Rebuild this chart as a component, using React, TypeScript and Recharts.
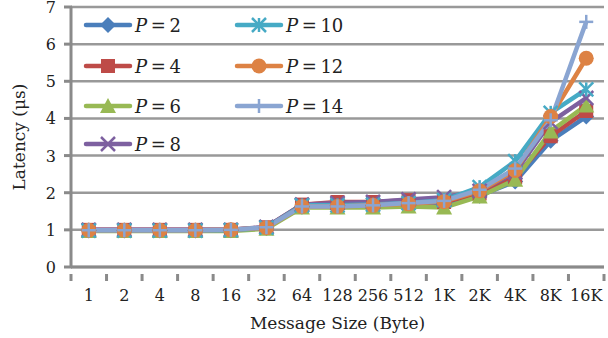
import React from 'react';
import { LineChart, Line, XAxis, YAxis, CartesianGrid } from 'recharts';

const sizes = ['1', '2', '4', '8', '16', '32', '64', '128', '256', '512', '1K', '2K', '4K', '8K', '16K'];
const yTicks = [0, 1, 2, 3, 4, 5, 6, 7];

const p2 = [0.98, 0.98, 0.98, 0.98, 0.99, 1.05, 1.62, 1.65, 1.65, 1.68, 1.65, 1.92, 2.3, 3.4, 4.05];
const p4 = [1.0, 1.0, 1.0, 1.0, 1.0, 1.07, 1.68, 1.75, 1.75, 1.8, 1.75, 1.98, 2.42, 3.52, 4.2];
const p6 = [0.97, 0.97, 0.97, 0.97, 0.97, 1.03, 1.6, 1.6, 1.6, 1.63, 1.6, 1.9, 2.35, 3.65, 4.35];
const p8 = [1.0, 1.0, 1.0, 1.0, 1.0, 1.08, 1.68, 1.72, 1.75, 1.82, 1.88, 2.05, 2.55, 3.9, 4.55];
const p10 = [0.98, 0.98, 0.98, 0.98, 0.99, 1.06, 1.66, 1.66, 1.68, 1.72, 1.8, 2.15, 2.85, 4.15, 4.78];
const p12 = [0.99, 0.99, 0.99, 0.99, 1.0, 1.06, 1.63, 1.63, 1.66, 1.7, 1.76, 2.05, 2.6, 4.05, 5.62];
const p14 = [0.99, 0.99, 0.99, 0.99, 1.0, 1.07, 1.63, 1.63, 1.66, 1.72, 1.78, 2.08, 2.65, 3.95, 6.6];

const series = [
  { key: 'p2', p: '2', color: '#4a7ebb', shape: 'diamond', values: p2 },
  { key: 'p4', p: '4', color: '#be4b48', shape: 'square', values: p4 },
  { key: 'p6', p: '6', color: '#98b954', shape: 'triangle', values: p6 },
  { key: 'p8', p: '8', color: '#7d60a0', shape: 'x', values: p8 },
  { key: 'p10', p: '10', color: '#46aac5', shape: 'star', values: p10 },
  { key: 'p12', p: '12', color: '#dd8244', shape: 'circle', values: p12 },
  { key: 'p14', p: '14', color: '#8aa5d2', shape: 'plus', values: p14 },
];

const data = sizes.map((size, i) => {
  const row: Record<string, any> = { size };
  series.forEach((s) => (row[s.key] = s.values[i]));
  return row;
});

const FONT = '"DejaVu Serif", "Liberation Serif", serif';
const AXIS = '#8a8a8a';
const W = 608;
const H = 338;
const margin = { top: 7, right: 4, bottom: 0, left: 31 };
const Y_W = 40;
const X_H = 71;
const band = (W - margin.left - Y_W - margin.right) / sizes.length;

function Marker({ shape, color, cx, cy }: { shape: string; color: string; cx: number; cy: number }) {
  const r = 7;
  switch (shape) {
    case 'diamond':
      return <polygon points={`${cx},${cy - r - 1} ${cx + r + 1},${cy} ${cx},${cy + r + 1} ${cx - r - 1},${cy}`} fill={color} />;
    case 'square':
      return <rect x={cx - r} y={cy - r} width={2 * r} height={2 * r} fill={color} />;
    case 'triangle':
      return <polygon points={`${cx},${cy - r - 1} ${cx + r + 1},${cy + r} ${cx - r - 1},${cy + r}`} fill={color} />;
    case 'x':
      return (
        <g stroke={color} strokeWidth={2.5}>
          <line x1={cx - r} y1={cy - r} x2={cx + r} y2={cy + r} />
          <line x1={cx - r} y1={cy + r} x2={cx + r} y2={cy - r} />
        </g>
      );
    case 'star':
      return (
        <g stroke={color} strokeWidth={2.5}>
          <line x1={cx - r} y1={cy - r} x2={cx + r} y2={cy + r} />
          <line x1={cx - r} y1={cy + r} x2={cx + r} y2={cy - r} />
          <line x1={cx} y1={cy - r} x2={cx} y2={cy + r} />
        </g>
      );
    case 'circle':
      return <circle cx={cx} cy={cy} r={r + 0.5} fill={color} />;
    default:
      return (
        <g stroke={color} strokeWidth={2.5}>
          <line x1={cx - r} y1={cy} x2={cx + r} y2={cy} />
          <line x1={cx} y1={cy - r} x2={cx} y2={cy + r} />
        </g>
      );
  }
}

function XTick(props: any) {
  const { x, y, payload, index } = props;
  const left = x - band / 2;
  return (
    <g>
      <line x1={left} y1={y - 1} x2={left} y2={y + 6} stroke={AXIS} strokeWidth={3} />
      {index === sizes.length - 1 && (
        <line x1={x + band / 2} y1={y - 1} x2={x + band / 2} y2={y + 6} stroke={AXIS} strokeWidth={3} />
      )}
      <text x={x} y={y + 26} textAnchor="middle" fontFamily={FONT} fontSize={16} fill="#222">
        {payload.value}
      </text>
    </g>
  );
}

function YTick(props: any) {
  const { x, y, payload } = props;
  return (
    <g>
      <line x1={x + 1} y1={y} x2={x + 9} y2={y} stroke={AXIS} strokeWidth={3} />
      <text x={x - 7} y={y + 6} textAnchor="end" fontFamily={FONT} fontSize={16} fill="#222">
        {payload.value}
      </text>
    </g>
  );
}

function LegendBox() {
  const rows = [25, 66, 106, 144];
  return (
    <div style={{ position: 'absolute', left: 0, top: 0, width: 300, height: 170, pointerEvents: 'none' }}>
      {series.map((s, i) => {
        const col = i < 4 ? 0 : 1;
        const row = i < 4 ? i : i - 4;
        const left = col === 0 ? 83 : 234;
        return (
          <div
            key={s.key}
            style={{ position: 'absolute', left, top: rows[row] - 12, height: 24, display: 'flex', alignItems: 'center', whiteSpace: 'nowrap' }}
          >
            <svg width={50} height={24}>
              <line x1={3} y1={12} x2={47} y2={12} stroke={s.color} strokeWidth={4.5} strokeLinecap="round" />
              <Marker shape={s.shape} color={s.color} cx={25} cy={12} />
            </svg>
            <span style={{ fontFamily: FONT, fontSize: 18, color: '#222', marginLeft: 2 }}>
              <i>P</i>{'\u2009=\u2009'}{s.p}
            </span>
          </div>
        );
      })}
    </div>
  );
}

export default function App() {
  return (
    <div style={{ position: 'absolute', left: 0, top: 0, width: W, height: H, background: '#fff' }}>
      <LineChart width={W} height={H} data={data} margin={margin} style={{ overflow: 'visible' }}>
        <CartesianGrid vertical={false} stroke="#999" strokeWidth={2.5} />
        <XAxis
          dataKey="size"
          scale="band"
          height={X_H}
          interval={0}
          tickLine={false}
          axisLine={{ stroke: AXIS, strokeWidth: 3 }}
          tick={<XTick />}
          label={{ value: 'Message Size (Byte)', position: 'insideBottom', offset: 9, fontFamily: FONT, fontSize: 17, fill: '#222' }}
        />
        <YAxis
          domain={[0, 7]}
          ticks={yTicks}
          interval={0}
          width={Y_W}
          tickLine={false}
          axisLine={{ stroke: AXIS, strokeWidth: 3 }}
          tick={<YTick />}
          label={{ value: 'Latency (μs)', angle: -90, position: 'insideLeft', offset: -12, fontFamily: FONT, fontSize: 17, fill: '#222', style: { textAnchor: 'middle' } }}
        />
        {series.map((s) => (
          <Line
            key={s.key}
            dataKey={s.key}
            stroke={s.color}
            strokeWidth={4.5}
            isAnimationActive={false}
            dot={(p: any) => <Marker key={`${s.key}-${p.index}`} shape={s.shape} color={s.color} cx={p.cx} cy={p.cy} />}
            activeDot={false}
          />
        ))}
      </LineChart>
      <LegendBox />
    </div>
  );
}
